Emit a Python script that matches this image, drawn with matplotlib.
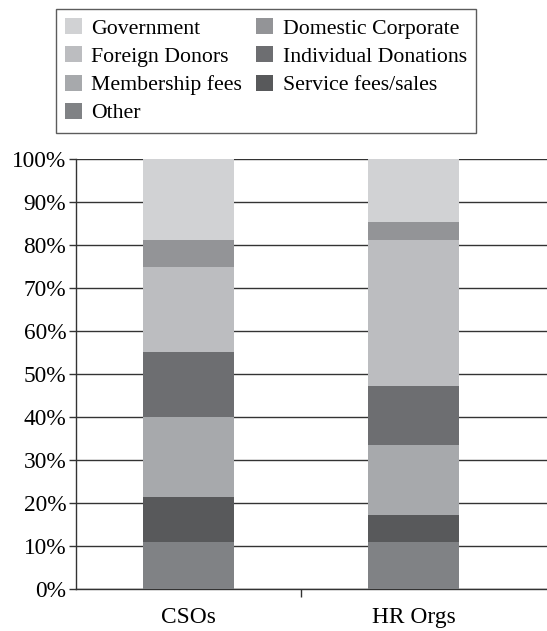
import matplotlib.pyplot as plt
from matplotlib.patches import Patch
import numpy as np

plt.rcParams["font.family"] = ["Liberation Serif", "DejaVu Serif"]

categories = ["CSOs", "HR Orgs"]
# stacked from bottom to top, percent of funding
sources = ["Other", "Service fees/sales", "Membership fees", "Individual Donations",
           "Foreign Donors", "Domestic Corporate", "Government"]
other = [11.0, 11.0]
service_fees = [10.3, 6.3]
membership = [18.6, 16.3]
individual = [15.2, 13.5]
foreign = [19.7, 34.0]
domestic = [6.3, 4.3]
government = [18.9, 14.6]
values = [other, service_fees, membership, individual, foreign, domestic, government]
colors = ["#808285", "#58595b", "#a7a9ac", "#6d6e71", "#bcbdc0", "#939497", "#d1d2d4"]

fig = plt.figure(figsize=(5.47, 6.31), dpi=100)
ax = fig.add_axes([76 / 547, 42 / 631, 471 / 547, 430 / 631])

x = np.arange(len(categories))
bottom = np.zeros(len(categories))
handles = {}
for name, vals, c in zip(sources, values, colors):
    ax.bar(x, vals, width=0.405, bottom=bottom, color=c, zorder=3)
    bottom += np.array(vals)
    handles[name] = Patch(facecolor=c, edgecolor="none")

ax.set_ylim(0, 100)
ax.set_xlim(-0.5, 1.593)
ax.set_yticks(np.arange(0, 101, 10))
ax.set_yticklabels([f"{v}%" for v in range(0, 101, 10)], fontsize=16.8)
ax.set_xticks([0.5])
ax.set_xticklabels([])
ax.set_xticks(x, minor=True)
ax.set_xticklabels(categories, minor=True, fontsize=16.8)
ax.tick_params(axis="x", which="minor", length=0, pad=13)
ax.tick_params(axis="x", which="major", length=6, width=1, color="#333333")
ax.tick_params(axis="y", length=5, width=1, color="#333333", pad=2)
ax.yaxis.grid(True, color="#333333", linewidth=1.0, zorder=0)
ax.set_axisbelow(True)
for s in ["top", "right"]:
    ax.spines[s].set_visible(False)
for s in ["left", "bottom"]:
    ax.spines[s].set_color("#333333")
    ax.spines[s].set_linewidth(1.0)

order = ["Government", "Foreign Donors", "Membership fees", "Other",
         "Domestic Corporate", "Individual Donations", "Service fees/sales"]
leg = fig.legend([handles[n] for n in order], order, ncol=2,
                 loc="upper left", bbox_to_anchor=(56 / 547, 1 - 9 / 631),
                 borderaxespad=0, frameon=True, fancybox=False, edgecolor="#333333",
                 fontsize=15.7, handlelength=0.75, handleheight=0.75,
                 handletextpad=0.45, columnspacing=0.65, labelspacing=0.35,
                 borderpad=0.42)
leg.get_frame().set_linewidth(1.0)

fig.savefig("out.png", dpi=100)
